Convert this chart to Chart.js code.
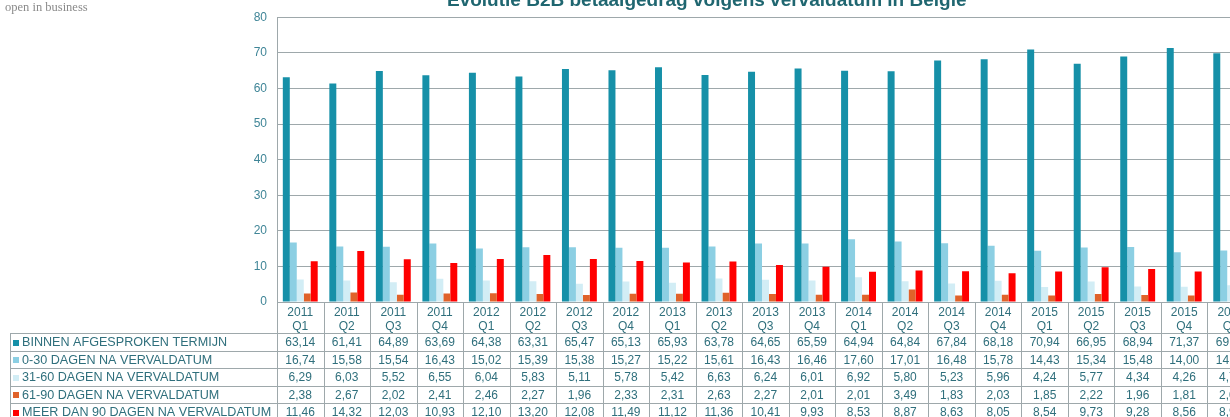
<!DOCTYPE html>
<html>
<head>
<meta charset="utf-8">
<script src="https://cdn.jsdelivr.net/npm/chart.js@4"></script>
<style>
  html, body { margin: 0; padding: 0; background: #fff; overflow: hidden; width: 1230px; height: 417px; }
  #wrap { position: relative; width: 1260px; height: 430px; }
  #brand { position: absolute; left: 5px; top: 0px; font: 12.5px "Liberation Serif", serif; color: #8a8a8a; }
  #title { position: absolute; left: 447px; top: -10px; white-space: nowrap; font: bold 19px "Liberation Sans", Arial, sans-serif; line-height: 19px; color: #1f6670; }
</style>
</head>
<body>
<div id="wrap">
  <canvas id="b2bChart" width="1260" height="430"></canvas>
  <div id="brand">open in business</div>
  <div id="title">Evolutie B2B betaalgedrag volgens vervaldatum in België</div>
</div>
<script>
// ===============================
// Data
// ===============================
const years = ["2011","2011","2011","2011","2012","2012","2012","2012","2013","2013","2013","2013",
  "2014","2014","2014","2014","2015","2015","2015","2015","2016"];
const quarters = ["Q1","Q2","Q3","Q4","Q1","Q2","Q3","Q4","Q1","Q2","Q3","Q4",
  "Q1","Q2","Q3","Q4","Q1","Q2","Q3","Q4","Q1"];

const binnenTermijn = [63.14, 61.41, 64.89, 63.69, 64.38, 63.31, 65.47, 65.13, 65.93, 63.78, 64.65, 65.59,
  64.94, 64.84, 67.84, 68.18, 70.94, 66.95, 68.94, 71.37, 69.88];
const dagen0tot30 = [16.74, 15.58, 15.54, 16.43, 15.02, 15.39, 15.38, 15.27, 15.22, 15.61, 16.43, 16.46,
  17.60, 17.01, 16.48, 15.78, 14.43, 15.34, 15.48, 14.00, 14.47];
const dagen31tot60 = [6.29, 6.03, 5.52, 6.55, 6.04, 5.83, 5.11, 5.78, 5.42, 6.63, 6.24, 6.01,
  6.92, 5.80, 5.23, 5.96, 4.24, 5.77, 4.34, 4.26, 4.72];
const dagen61tot90 = [2.38, 2.67, 2.02, 2.41, 2.46, 2.27, 1.96, 2.33, 2.31, 2.63, 2.27, 2.01,
  2.01, 3.49, 1.83, 2.03, 1.85, 2.22, 1.96, 1.81, 2.01];
const meerDan90 = [11.46, 14.32, 12.03, 10.93, 12.10, 13.20, 12.08, 11.49, 11.12, 11.36, 10.41, 9.93,
  8.53, 8.87, 8.63, 8.05, 8.54, 9.73, 9.28, 8.56, 8.92];

const yTicks = [0, 10, 20, 30, 40, 50, 60, 70, 80];

const labels = years.map((y, i) => [y, quarters[i]]);

const gridColor = "#9ea8ab";
const textColor = "#2f6f7c";
const font = "Liberation Sans, Arial, sans-serif";

// ===============================
// Data table under the chart
// ===============================
const tablePlugin = {
  id: "dataTable",
  afterDraw(chart) {
    const ctx = chart.ctx;
    const area = chart.chartArea;
    const x = chart.scales.x;
    const top = area.bottom;
    const headBottom = top + 31.3;
    const rowH = 17.4;
    const tableLeft = 10;
    const sets = chart.data.datasets;
    const bottom = headBottom + rowH * sets.length;
    const half = (x.getPixelForValue(1) - x.getPixelForValue(0)) / 2;

    ctx.save();
    ctx.strokeStyle = gridColor;
    ctx.lineWidth = 1;
    ctx.beginPath();
    for (let r = 0; r <= sets.length; r++) {
      const y = Math.round(headBottom + r * rowH) + 0.5;
      ctx.moveTo(tableLeft, y);
      ctx.lineTo(area.right, y);
    }
    ctx.moveTo(tableLeft + 0.5, Math.round(headBottom));
    ctx.lineTo(tableLeft + 0.5, bottom);
    for (let i = 0; i <= labels.length; i++) {
      const xx = Math.round(x.getPixelForValue(i) - half) + 0.5;
      ctx.moveTo(xx, top);
      ctx.lineTo(xx, bottom);
    }
    ctx.stroke();

    ctx.textBaseline = "middle";
    sets.forEach((ds, r) => {
      const cy = headBottom + r * rowH + rowH / 2 + 1;
      ctx.fillStyle = ds.backgroundColor;
      ctx.fillRect(13, Math.round(cy) - 3, 6, 6);
      ctx.fillStyle = textColor;
      ctx.textAlign = "left";
      ctx.font = "12.6px " + font;
      ctx.fillText(ds.label, 22, cy);
      ctx.textAlign = "center";
      ctx.font = "12px " + font;
      ds.data.forEach((v, i) => {
        ctx.fillText(v.toFixed(2).replace(".", ","), x.getPixelForValue(i), cy);
      });
    });
    ctx.restore();
  }
};

// ===============================
// Bar chart
// ===============================
const ctx = document.getElementById("b2bChart");
new Chart(ctx, {
  type: "bar",
  data: {
    labels: labels,
    datasets: [
      { label: "BINNEN AFGESPROKEN TERMIJN", data: binnenTermijn, backgroundColor: "#1690a8" },
      { label: "0-30 DAGEN NA VERVALDATUM", data: dagen0tot30, backgroundColor: "#8ccfe3" },
      { label: "31-60 DAGEN NA VERVALDATUM", data: dagen31tot60, backgroundColor: "#d2edf5" },
      { label: "61-90 DAGEN NA VERVALDATUM", data: dagen61tot90, backgroundColor: "#e0622a" },
      { label: "MEER DAN 90 DAGEN NA VERVALDATUM", data: meerDan90, backgroundColor: "#ff0000" }
    ]
  },
  options: {
    responsive: false,
    animation: false,
    categoryPercentage: 0.75,
    barPercentage: 1,
    layout: { padding: { top: 17, right: 6, bottom: 0, left: 0 } },
    plugins: {
      legend: { display: false },
      title: { display: false },
      tooltip: { enabled: false }
    },
    scales: {
      x: {
        grid: { display: false, drawTicks: false },
        border: { display: true, color: gridColor },
        ticks: {
          color: textColor,
          font: { family: font, size: 12, lineHeight: 1.15 },
          padding: 4,
          maxRotation: 0,
          autoSkip: false
        },
        afterFit: s => { s.height = 128; }
      },
      y: {
        min: 0,
        max: 80,
        afterBuildTicks: s => { s.ticks = yTicks.map(v => ({ value: v })); },
        grid: { color: gridColor, drawTicks: false },
        border: { display: true, color: gridColor },
        ticks: {
          color: "#3f8597",
          font: { family: font, size: 12 },
          padding: 10
        },
        afterFit: s => { s.width = 277; }
      }
    }
  },
  plugins: [tablePlugin]
});
</script>
</body>
</html>
